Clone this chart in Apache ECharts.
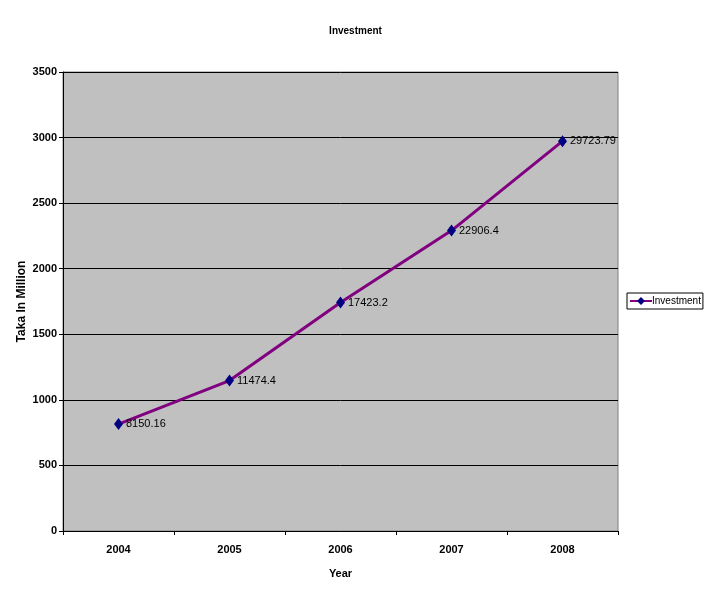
<!DOCTYPE html>
<html><head><meta charset="utf-8">
<script src="https://cdn.jsdelivr.net/npm/echarts@6/dist/echarts.min.js"></script>
<style>html,body{margin:0;padding:0;background:#fff}#c{width:711px;height:602px}</style>
</head><body><div id="c"></div>
<script>
const years = ['2004','2005','2006','2007','2008'];
const investment = [8150.16, 11474.4, 17423.2, 22906.4, 29723.79];
const yTickLabels = ['0', '500', '1000', '1500', '2000', '2500', '3000', '3500'];
const F = '"Liberation Sans Narrow", "Arial Narrow", "Liberation Sans", sans-serif';
const chart = echarts.init(document.getElementById('c'));
chart.setOption({
  animation: false,
  title: { text: 'Investment', left: 'center', top: 21,
    textStyle: { fontFamily: F, fontSize: 10, fontWeight: 'bold', color: '#000' } },
  grid: { left: 63, top: 72, width: 555, height: 459, containLabel: false, outerBoundsMode: 'none',
    backgroundColor: '#c0c0c0', show: true, borderColor: '#808080', borderWidth: 1 },
  legend: { left: 627, top: 293, orient: 'vertical', itemWidth: 22, itemHeight: 10, itemGap: 0,
    padding: [3, 2, 3, 2], borderColor: '#000', borderWidth: 1, backgroundColor: '#fff',
    textStyle: { fontFamily: F, fontSize: 10, color: '#000', padding: [0, 0, 0, -5] },
    data: ['Investment'] },
  xAxis: { type: 'category', data: years, boundaryGap: true,
    name: 'Year', nameLocation: 'middle', nameGap: 37, nameMoveOverlap: false,
    nameTextStyle: { fontFamily: F, fontSize: 11, fontWeight: 'bold', color: '#000' },
    axisLine: { lineStyle: { color: '#000', width: 1 } },
    axisTick: { show: true, length: 4, inside: false, lineStyle: { color: '#000' } },
    axisLabel: { fontFamily: F, fontSize: 11, fontWeight: 'bold', color: '#000', margin: 13 } },
  yAxis: { type: 'value', min: 0, max: 35000, interval: 5000,
    name: 'Taka In Million', nameLocation: 'middle', nameGap: 35, nameMoveOverlap: false,
    nameTextStyle: { fontFamily: F, fontSize: 12, fontWeight: 'bold', color: '#000' },
    axisLine: { show: true, lineStyle: { color: '#000', width: 1 } },
    axisTick: { show: true, length: 4, lineStyle: { color: '#000' } },
    axisLabel: { fontFamily: F, fontSize: 11, fontWeight: 'bold', color: '#000', margin: 6,
      formatter: v => yTickLabels[Math.round(v / 5000)] },
    splitLine: { show: true, lineStyle: { color: '#000', width: 1 } } },
  series: [{
    name: 'Investment', type: 'line', data: investment,
    lineStyle: { color: '#800080', width: 3 },
    itemStyle: { color: '#000080' },
    symbol: 'diamond', symbolSize: [9, 12], showAllSymbol: true,
    label: { show: true, position: 'right', distance: 3, fontFamily: F, fontSize: 11, color: '#000',
      formatter: p => String(p.value) }
  }]
});
</script></body></html>
